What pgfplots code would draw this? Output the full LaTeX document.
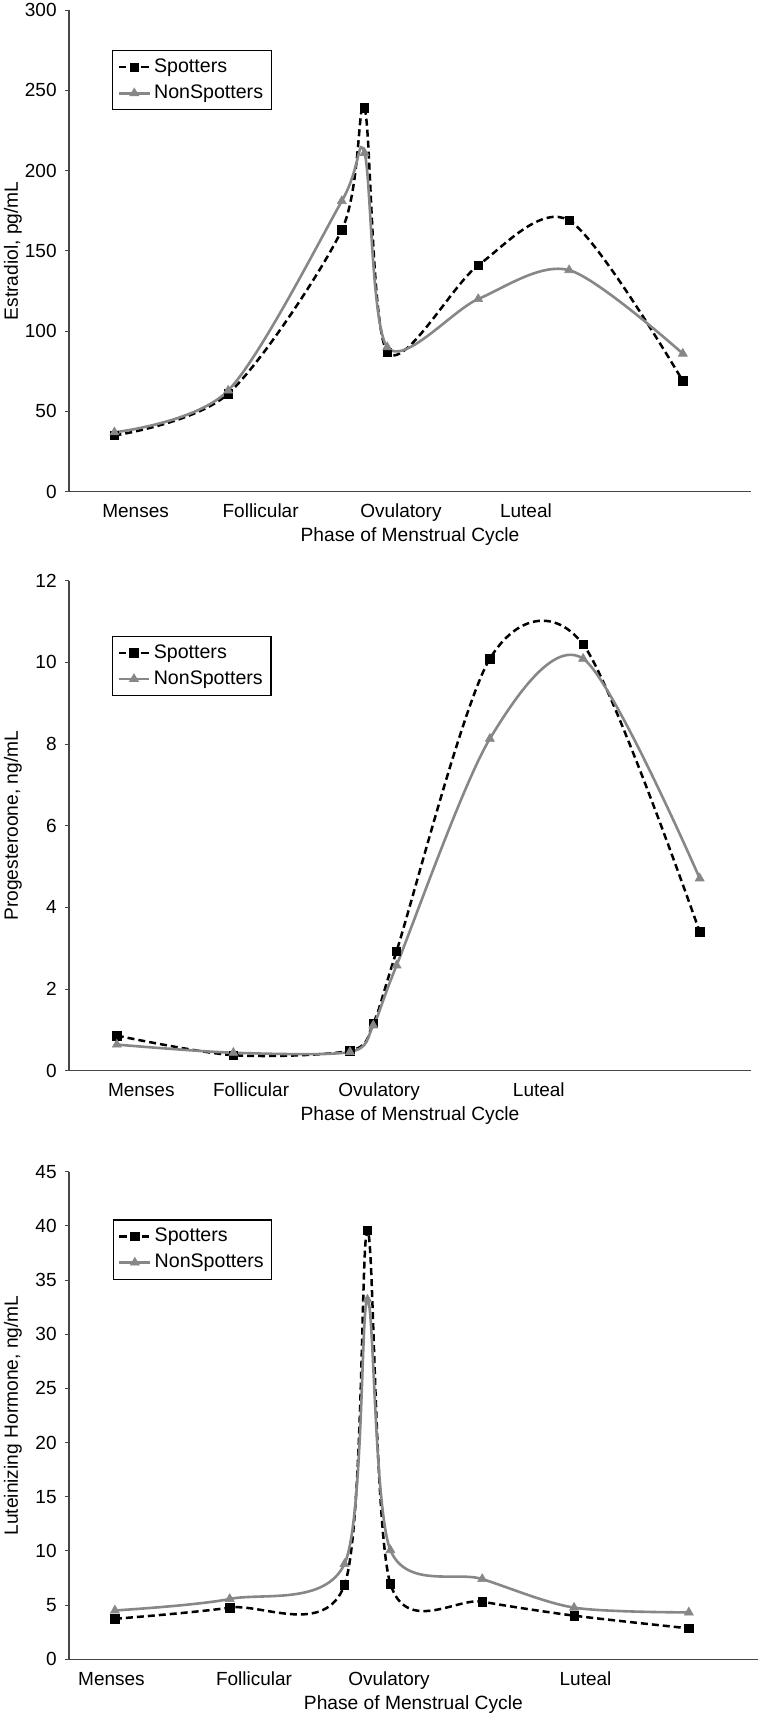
\documentclass[border=0pt]{standalone}
\usepackage{fontspec}
\setmainfont{Liberation Sans}
\usepackage{pgfplots}
\pgfplotsset{compat=1.18}
\definecolor{grayc}{RGB}{135,135,135}
\definecolor{axisc}{RGB}{70,70,70}
\begin{document}
\begin{tikzpicture}
\pgfplotsset{
  common/.style={
    scale only axis,
    anchor=south west,
    axis lines*=left,
    axis line style={-, draw=axisc, line width=0.7pt},
    tick align=outside,
    xtick style={draw=none},
    ytick style={draw=axisc, line width=0.5pt},
    major tick length=2pt,
    /pgf/number format/assume math mode=true,
    ticklabel style={font=\fontsize{9.5}{11}\selectfont},
    yticklabel style={anchor=east, inner sep=0pt, xshift=-4pt},
    xticklabel style={anchor=base, inner sep=0pt, yshift=-10.9pt},
    xlabel style={at={(axis description cs:0.5,0)}, anchor=base, yshift=-25pt, font=\fontsize{9.6}{11}\selectfont},
    label style={font=\fontsize{9.6}{11}\selectfont},
    xlabel={Phase of Menstrual Cycle},
    xticklabels={Menses,Follicular,Ovulatory,Luteal},
    legend cell align=left,
    clip=false,
  },
  spot/.style={black, line width=1.25pt, dash pattern=on 3.5pt off 2pt, smooth, tension=0.5,
    mark=square*, mark size=2.1pt, mark options={solid, fill=black, draw=black, line width=0.3pt}},
  nons/.style={grayc, line width=1.3pt, solid, smooth, tension=0.5,
    mark=triangle*, mark size=2.6pt, mark options={solid, fill=grayc, draw=grayc, line width=0.3pt}},
  lgd/.style n args={2}{legend style={at={([xshift=#1,yshift=#2]axis description cs:0,1)}, anchor=north west,
    draw=black, line width=0.6pt, font=\fontsize{9.8}{11}\selectfont,
    inner xsep=2.5pt, inner ysep=2.5pt, row sep=1.5pt,
    nodes={inner sep=1.6pt}},
    legend image code/.code={\draw[mark repeat=2,mark phase=2,##1] plot coordinates {(0cm,0cm) (0.27cm,0cm) (0.54cm,0cm)};}},
}

% ---------- Estradiol ----------
\begin{axis}[common,
  at={(34.5pt,-245.85pt)},
  width=341pt, height=240.85pt,
  xmin=-2, xmax=28, ymin=0, ymax=300,
  ytick={0,50,...,300},
  xtick={0.93,6.43,12.6,18.1},
  ylabel={Estradiol, pg/mL},
  ylabel style={at={([xshift=-25.5pt]axis description cs:0,0.5)}, anchor=base, rotate=0},
  lgd={21.5pt}{-20pt},
]
\addplot[spot] coordinates {(0,35) (5,61) (10,163) (11,239) (12,87) (16,141) (20,169) (25,69)};
\addlegendentry{Spotters}
\addplot[nons] coordinates {(0,37) (5,63) (10,181) (11,211) (12,90) (16,120) (20,138) (25,86)};
\addlegendentry{NonSpotters}
\end{axis}

% ---------- Progesterone ----------
\begin{axis}[common,
  at={(34.5pt,-535.35pt)},
  width=341pt, height=245pt,
  xmin=-2.05, xmax=27.2, ymin=0, ymax=12,
  ytick={0,2,...,12},
  xtick={1.05,5.76,11.25,18.1},
  ylabel={Progesteroone, ng/mL},
  ylabel style={at={([xshift=-25.5pt]axis description cs:0,0.5)}, anchor=base, rotate=0},
  lgd={21.35pt}{-27.5pt},
]
\addplot[spot] coordinates {(0,0.86) (5,0.38) (10,0.49) (11,1.16) (12,2.93) (16,10.09) (20,10.44) (25,3.40)};
\addlegendentry{Spotters}
\addplot[nons] coordinates {(0,0.64) (5,0.44) (10,0.46) (11,1.11) (12,2.58) (16,8.13) (20,10.09) (25,4.71)};
\addlegendentry{NonSpotters}
\end{axis}

% ---------- LH ----------
\begin{axis}[common,
  at={(34.5pt,-829.65pt)},
  width=344.35pt, height=243.8pt,
  xmin=-2, xmax=28, ymin=0, ymax=45,
  ytick={0,5,...,45},
  xtick={-0.15,6.06,11.94,20.5},
  ylabel={Luteinizing Hormone, ng/mL},
  ylabel style={at={([xshift=-25.5pt]axis description cs:0,0.5)}, anchor=base, rotate=0},
  lgd={21.8pt}{-23.8pt},
]
\addplot[spot] coordinates {(0,3.74) (5,4.77) (10,6.86) (11,39.6) (12,6.97) (16,5.32) (20,4.03) (25,2.86)};
\addlegendentry{Spotters}
\addplot[nons] coordinates {(0,4.51) (5,5.57) (10,8.8) (11,33.2) (12,10.08) (16,7.41) (20,4.77) (25,4.33)};
\addlegendentry{NonSpotters}
\end{axis}

\pgfresetboundingbox
\path[use as bounding box] (0,0) rectangle (385.5pt,-857.5pt);
\end{tikzpicture}
\end{document}
